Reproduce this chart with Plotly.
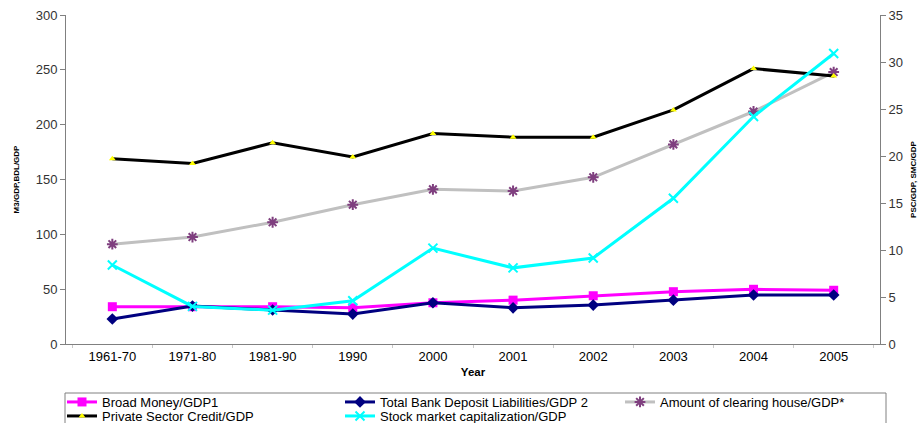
import plotly.graph_objects as go

years = ["1961-70", "1971-80", "1981-90", "1990", "2000", "2001", "2002", "2003", "2004", "2005"]

broad_money = [34, 34, 34, 33, 37.6, 40, 44, 47.7, 49.9, 49]
bank_deposit = [22.8, 34.6, 31, 27.3, 37.6, 33, 35.5, 40, 44.7, 44.7]
clearing_house = [91, 97.5, 111, 127, 141, 139.5, 152, 182, 212, 248]
private_credit = [19.7, 19.2, 21.4, 19.9, 22.4, 22.0, 22.0, 24.9, 29.3, 28.5]
stock_market = [8.4, 4.0, 3.6, 4.6, 10.2, 8.1, 9.15, 15.5, 24.2, 30.9]

FONT = "Liberation Sans, Arial, sans-serif"

fig = go.Figure()
fig.add_trace(go.Scatter(x=years, y=broad_money, name="Broad Money/GDP1", mode="lines+markers",
                         legend="legend",
                         line=dict(color="#FF00FF", width=3),
                         marker=dict(symbol="square", size=9, color="#FF00FF")))
fig.add_trace(go.Scatter(x=years, y=bank_deposit, name="Total Bank Deposit Liabilities/GDP 2", mode="lines+markers",
                         legend="legend2",
                         line=dict(color="#000080", width=3),
                         marker=dict(symbol="diamond", size=9, color="#000080")))
fig.add_trace(go.Scatter(x=years, y=clearing_house, name="Amount of clearing house/GDP*", mode="lines+markers",
                         legend="legend3",
                         line=dict(color="#C0C0C0", width=3),
                         marker=dict(symbol="asterisk", size=9, color="#7F3F7F",
                                     line=dict(color="#7F3F7F", width=2))))
fig.add_trace(go.Scatter(x=years, y=private_credit, name="Private Sector Credit/GDP", mode="lines+markers",
                         legend="legend4",
                         yaxis="y2", line=dict(color="#000000", width=3),
                         marker=dict(symbol="triangle-up", size=6, color="#FFFF00")))
fig.add_trace(go.Scatter(x=years, y=stock_market, name="Stock market capitalization/GDP", mode="lines+markers",
                         legend="legend5",
                         yaxis="y2", line=dict(color="#00FFFF", width=3),
                         marker=dict(symbol="x-thin", size=9, color="#00FFFF",
                                     line=dict(color="#00FFFF", width=2))))

legend_common = dict(orientation="h", xref="container", xanchor="left",
                     yref="container", yanchor="top", borderwidth=0,
                     bgcolor="rgba(0,0,0,0)", font=dict(size=13),
                     itemwidth=30, tracegroupgap=0)

row1 = (423 - 387) / 423
row2 = (423 - 401) / 423
col1, col2, col3 = 62 / 919, 340 / 919, 620 / 919

fig.update_layout(
    width=919, height=423,
    margin=dict(l=66, r=39, t=15, b=79, autoexpand=False),
    paper_bgcolor="white", plot_bgcolor="white",
    font=dict(family=FONT, size=11, color="#000000"),
    xaxis=dict(type="category", showline=True, linecolor="#808080", linewidth=1,
               ticks="outside", tickson="boundaries", ticklen=3, tickcolor="#C8C8C8",
               showgrid=False, tickfont=dict(size=13),
               title=dict(text="<b>Year</b>", font=dict(size=11.5), standoff=5)),
    yaxis=dict(range=[0, 300], dtick=50, showline=True, linecolor="#808080", linewidth=1,
               ticks="outside", ticklen=5, tickcolor="#808080", showgrid=False, zeroline=False,
               tickfont=dict(size=13, color="#333333"),
               title=dict(text="<b>M3/GDP,BDL/GDP</b>", font=dict(size=8), standoff=14)),
    yaxis2=dict(range=[0, 35], dtick=5, overlaying="y", side="right", showline=True,
                linecolor="#808080", linewidth=1, ticks="outside", ticklen=5, tickcolor="#808080",
                showgrid=False, zeroline=False, tickfont=dict(size=13, color="#333333"),
                title=dict(text="<b>PSC/GDP, SMC/GDP</b>", font=dict(size=8), standoff=8)),
    showlegend=True,
    legend=dict(legend_common, x=col1, y=row1),
    legend2=dict(legend_common, x=col2, y=row1),
    legend3=dict(legend_common, x=col3, y=row1),
    legend4=dict(legend_common, x=col1, y=row2),
    legend5=dict(legend_common, x=col2, y=row2),
    shapes=[dict(type="rect", xref="paper", yref="paper",
                 x0=(65 - 66) / 814, x1=(886 - 66) / 814,
                 y0=(344 - 393) / 329, y1=(344 - 440) / 329,
                 line=dict(color="#808080", width=1), fillcolor="rgba(0,0,0,0)", layer="below")],
)

fig.write_html("out.html")
